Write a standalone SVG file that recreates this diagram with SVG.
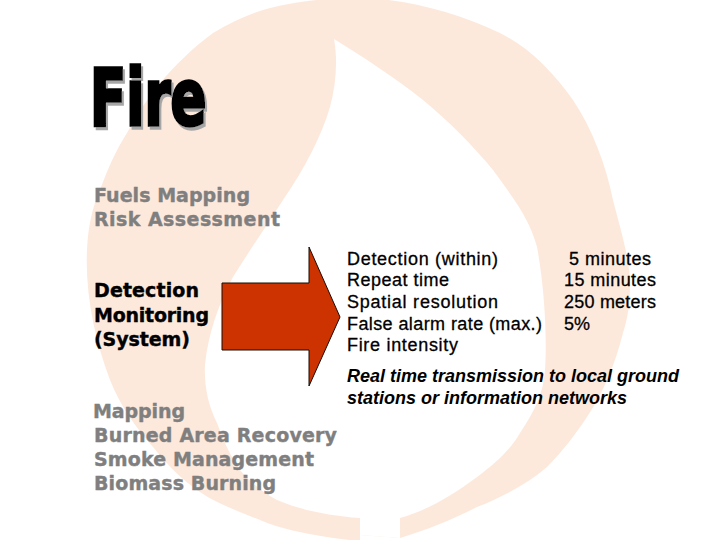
<svg xmlns="http://www.w3.org/2000/svg" width="720" height="540" viewBox="0 0 720 540">
<defs>
<filter id="shadow" x="-10%" y="-10%" width="130%" height="130%"><feDropShadow dx="3" dy="3" stdDeviation="0.4" flood-color="#a6a6a6" flood-opacity="1"/></filter>
</defs>
<style>
.g{font-family:"DejaVu Sans","Liberation Sans",sans-serif;font-weight:700;font-size:19px;fill:#7f7f7f;stroke:#7f7f7f;stroke-width:.4px}
.k{fill:#000;stroke:#000}
.a{font-family:"Liberation Sans",Arial,sans-serif;font-size:18px;fill:#000;stroke:#000;stroke-width:.3px}
.i{font-weight:700;font-style:italic;stroke:none}
.f{font-family:"DejaVu Sans","Liberation Sans",sans-serif;font-weight:700;font-size:78px;fill:#000;stroke:#000;stroke-width:3.4px;stroke-linejoin:miter}
</style>
<rect width="720" height="540" fill="#fff"/>
<path id="flame" fill="#fde9dc" d="M355 -2C405 -2 455 12 500 33C530 48 553 72 573 100C592 128 606 165 613 200C622 235 630 260 630 285C630 302 628 318 623 333C615 365 603 393 587 417C575 435 562 452 547 467C526 485 502 497 477 507C452 520 426 530 400 538L360 535L360 541C350 540 340 539 327 537C303 533 281 529 260 520C235 510 212 502 193 487C178 476 165 462 153 447C135 427 120 405 110 380C95 340 85 295 87 250C88 227 92 208 100 190C108 168 116 150 127 133C137 114 148 98 160 83C175 65 195 46 213 33C230 23 246 15 263 10C290 2 325 -2 355 -2Z"/>
<path fill="#fff" d="M334 39C338 60 336 85 330 107C322 135 305 168 283 200C265 228 250 250 233 277C218 305 208 335 205 365C204 385 208 405 217 423C225 445 232 458 240 470C252 484 263 492 277 500C300 510 330 516 360 518L360 535L400 538L400 518C428 510 453 495 477 477C497 462 510 450 520 433C535 410 543 395 545 370C547 340 545 290 537 247C530 220 515 200 493 170C475 148 450 122 423 100C395 78 365 58 334 39Z"/>
<g id="title">
<text class="f" transform="translate(90,124.5) scale(.68,1)" filter="url(#shadow)">Fire</text>
</g>
<g id="arrow"><path fill="#cc3300" stroke="#1a0a00" stroke-width="1" d="M222 283H309V247L340 317L309 386V350H222Z"/></g>
<g id="upper-list">
<text class="g" x="94" y="202" textLength="156">Fuels Mapping</text>
<text class="g" x="94" y="226" textLength="186">Risk Assessment</text>
</g>
<g id="detection">
<text class="g k" x="94" y="297" textLength="105">Detection</text>
<text class="g k" x="94" y="322" textLength="115">Monitoring</text>
<text class="g k" x="94" y="346" textLength="96">(System)</text>
</g>
<g id="lower-list">
<text class="g" x="93" y="418" textLength="92">Mapping</text>
<text class="g" x="94" y="442" textLength="243">Burned Area Recovery</text>
<text class="g" x="94" y="466" textLength="220">Smoke Management</text>
<text class="g" x="94" y="490" textLength="182">Biomass Burning</text>
</g>
<g id="requirements">
<text class="a" x="347" y="265" textLength="151">Detection (within)</text>
<text class="a" x="347" y="286" textLength="102">Repeat time</text>
<text class="a" x="347" y="308" textLength="151">Spatial resolution</text>
<text class="a" x="347" y="330" textLength="195">False alarm rate (max.)</text>
<text class="a" x="347" y="351" textLength="111">Fire intensity</text>
</g>
<g id="values">
<text class="a" x="569" y="265" textLength="82">5 minutes</text>
<text class="a" x="564" y="286" textLength="92">15 minutes</text>
<text class="a" x="564" y="308" textLength="92">250 meters</text>
<text class="a" x="564" y="330">5%</text>
</g>
<g id="transmission">
<text class="a i" x="347" y="382" textLength="332">Real time transmission to local ground</text>
<text class="a i" x="347" y="404" textLength="280">stations or information networks</text>
</g>
</svg>
